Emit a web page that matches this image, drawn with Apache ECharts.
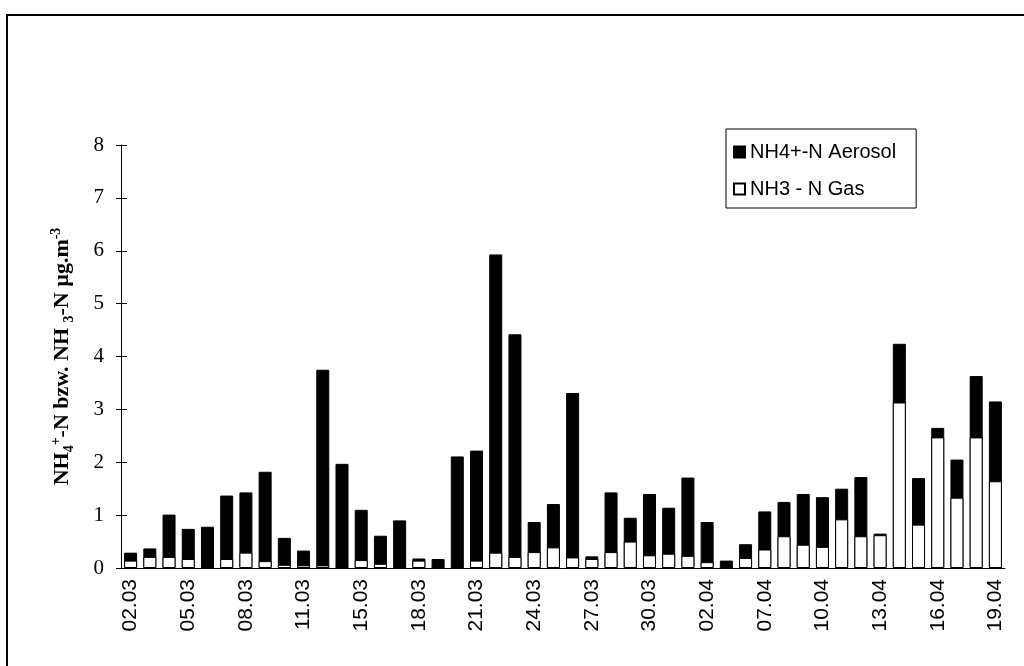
<!DOCTYPE html>
<html>
<head>
<meta charset="utf-8">
<script src="https://cdn.jsdelivr.net/npm/echarts@6/dist/echarts.min.js"></script>
<style>
  html, body { margin: 0; padding: 0; background: #fff; }
  #chart { width: 1024px; height: 666px; }
</style>
</head>
<body>
<div id="chart"></div>
<script>
// Sampling dates (not continuous)
const dates = [
  "02.03", "03.03", "04.03", "05.03", "06.03", "07.03", "08.03", "09.03", "10.03", "11.03",
  "12.03", "13.03", "15.03", "16.03", "17.03", "18.03", "19.03", "20.03", "21.03", "22.03",
  "23.03", "24.03", "25.03", "26.03", "27.03", "28.03", "29.03", "30.03", "31.03", "01.04",
  "02.04", "03.04", "04.04", "07.04", "08.04", "09.04", "10.04", "11.04", "12.04", "13.04",
  "14.04", "15.04", "16.04", "17.04", "18.04", "19.04"
];

// NH4+-N aerosol (black bars)
const aerosol = [
  0.29, 0.37, 1.01, 0.74, 0.78, 1.37, 1.43, 1.82, 0.57, 0.33,
  3.75, 1.97, 1.10, 0.61, 0.90, 0.18, 0.17, 2.11, 2.22, 5.93,
  4.42, 0.87, 1.21, 3.31, 0.22, 1.43, 0.95, 1.40, 1.14, 1.71,
  0.87, 0.14, 0.45, 1.07, 1.25, 1.40, 1.34, 1.50, 1.72, 0.65,
  4.24, 1.70, 2.65, 2.05, 3.63, 3.15
];

// NH3-N gas (white bars)
const gas = [
  0.14, 0.21, 0.21, 0.17, 0, 0.17, 0.29, 0.13, 0.06, 0.05,
  0.05, 0, 0.15, 0.08, 0, 0.14, 0, 0, 0.14, 0.29,
  0.21, 0.30, 0.39, 0.20, 0.17, 0.30, 0.50, 0.24, 0.27, 0.23,
  0.11, 0, 0.19, 0.35, 0.60, 0.44, 0.40, 0.92, 0.60, 0.62,
  3.13, 0.82, 2.47, 1.33, 2.47, 1.64
];

const chart = echarts.init(document.getElementById("chart"));

const option = {
  backgroundColor: "#fff",
  animation: false,
  graphic: [
    {
      type: "rect",
      shape: { x: 7, y: 15, width: 1100, height: 800 },
      style: { fill: "none", stroke: "#000", lineWidth: 2 },
      silent: true
    }
  ],
  legend: {
    orient: "vertical",
    left: 726,
    top: 129,
    padding: [13, 20, 9, 7],
    itemWidth: 11,
    itemHeight: 11,
    itemGap: 17,
    borderColor: "#000",
    borderWidth: 1,
    icon: "rect",
    textStyle: {
      fontFamily: "Liberation Sans",
      fontSize: 20,
      lineHeight: 20,
      color: "#000"
    },
    data: ["NH4+-N Aerosol", "NH3 - N Gas"]
  },
  grid: {
    left: 121,
    right: 19,
    top: 145,
    bottom: 98,
    containLabel: false
  },
  xAxis: [
    {
      type: "category",
      data: dates,
      axisLine: { lineStyle: { color: "#000", width: 1 } },
      axisTick: { interval: 1, length: 6, lineStyle: { color: "#000" } },
      axisLabel: {
        interval: 2,
        rotate: 90,
        margin: 11,
        fontFamily: "Liberation Sans",
        fontSize: 21,
        color: "#000"
      },
      splitLine: { show: false }
    },
    {
      type: "category",
      data: dates,
      position: "bottom",
      axisLine: { show: false },
      axisTick: { interval: 1, inside: true, length: 5, lineStyle: { color: "#000" } },
      axisLabel: { show: false },
      splitLine: { show: false }
    }
  ],
  yAxis: [
    {
      type: "value",
      min: 0,
      max: 8,
      interval: 1,
      name: "NH{sub|4}{sup|+}-N bzw. NH {sub|3}-N µg.m{sup|-3}",
      nameLocation: "middle",
      nameGap: 45,
      nameTextStyle: {
        fontFamily: "Liberation Serif",
        fontWeight: "bold",
        fontSize: 22,
        lineHeight: 27,
        color: "#000",
        rich: {
          sub: {
            fontFamily: "Liberation Serif",
            fontWeight: "bold",
            fontSize: 14,
            lineHeight: 14,
            verticalAlign: "bottom",
            color: "#000"
          },
          sup: {
            fontFamily: "Liberation Serif",
            fontWeight: "bold",
            fontSize: 14,
            lineHeight: 14,
            verticalAlign: "top",
            color: "#000"
          }
        }
      },
      axisLine: { show: true, lineStyle: { color: "#000", width: 1 } },
      axisTick: { show: true, length: 5, lineStyle: { color: "#000" } },
      axisLabel: {
        margin: 17,
        fontFamily: "Liberation Serif",
        fontSize: 21,
        color: "#000"
      },
      splitLine: { show: false }
    },
    {
      type: "value",
      min: 0,
      max: 8,
      interval: 1,
      position: "left",
      axisLine: { show: false },
      axisTick: { show: true, inside: true, length: 6, lineStyle: { color: "#000" } },
      axisLabel: { show: false },
      splitLine: { show: false }
    }
  ],
  series: [
    {
      name: "NH4+-N Aerosol",
      type: "bar",
      data: aerosol,
      barWidth: 13,
      itemStyle: { color: "#000", borderColor: "#000", borderWidth: 1 }
    },
    {
      name: "NH3 - N Gas",
      type: "bar",
      data: gas,
      barWidth: 13,
      barGap: "-100%",
      itemStyle: { color: "#fff", borderColor: "#000", borderWidth: 1 }
    }
  ]
};

chart.setOption(option);
</script>
</body>
</html>
